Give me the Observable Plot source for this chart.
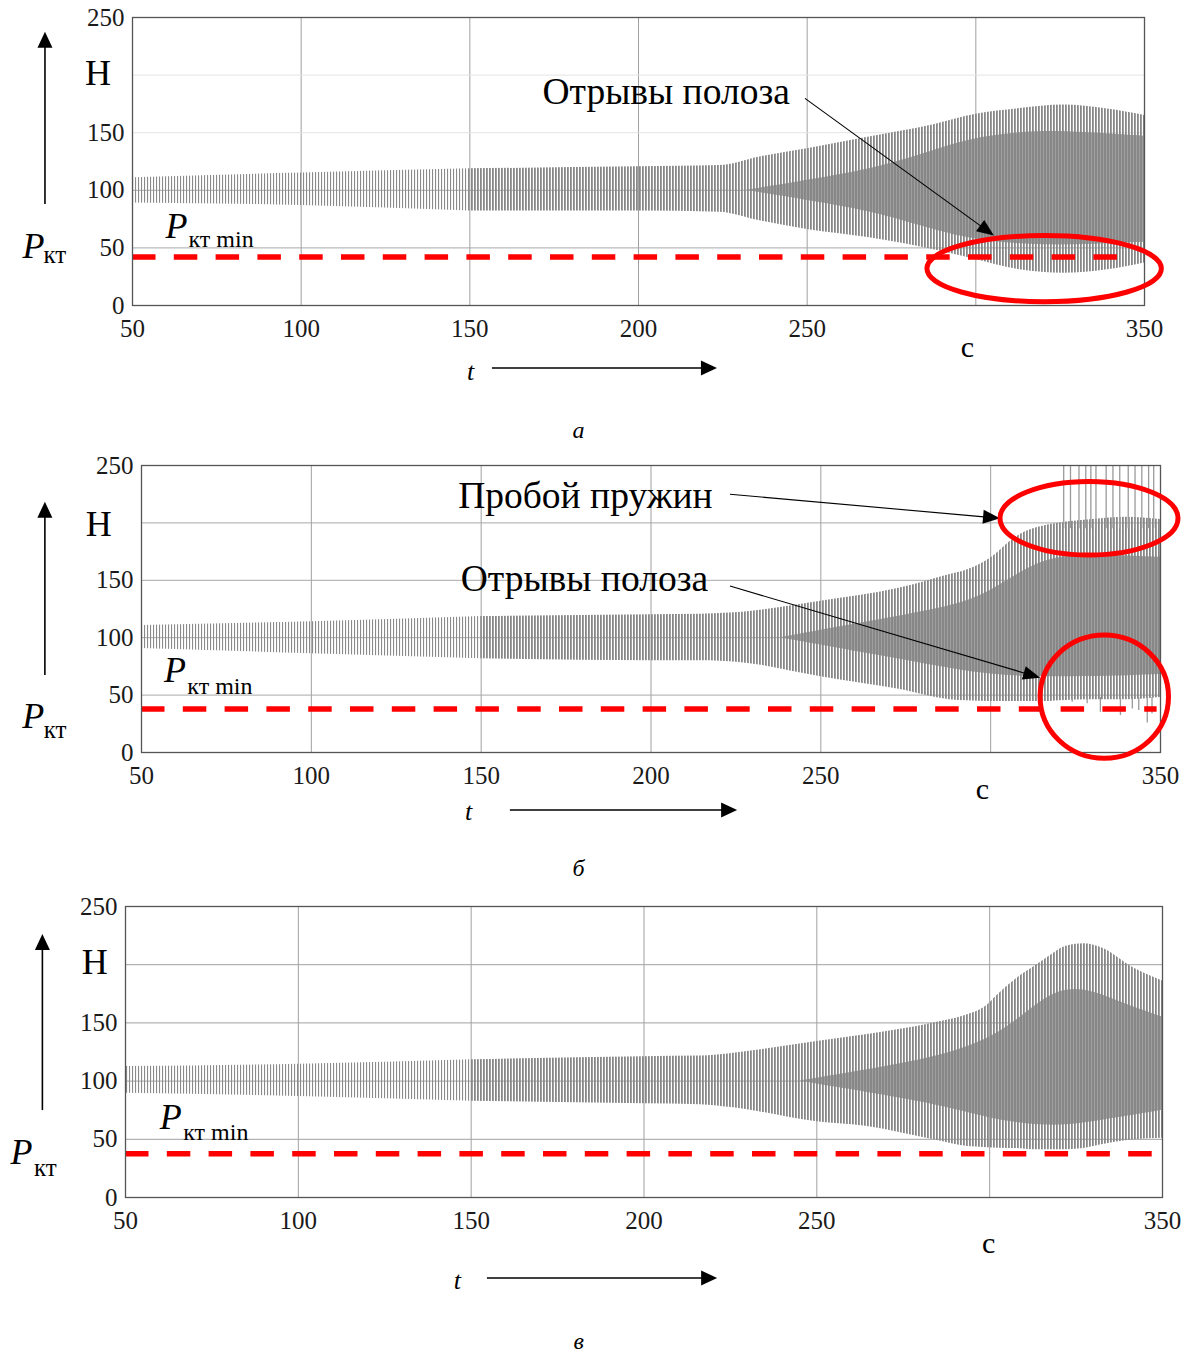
<!DOCTYPE html>
<html><head><meta charset="utf-8">
<script src="https://cdn.jsdelivr.net/npm/d3@7"></script>
<script src="https://cdn.jsdelivr.net/npm/@observablehq/plot@0.6"></script>
<style>
body{margin:0;background:#fff;}
#wrap{position:relative;width:1187px;height:1355px;background:#fff;}
#wrap svg.plot{position:absolute;left:0;}
</style></head><body>
<svg width="0" height="0" style="position:absolute">
<defs>
<pattern id="oscLight" width="3" height="8" patternUnits="userSpaceOnUse"><rect x="0" y="0" width="1.1" height="8" fill="#8a8a8a"/></pattern>
<pattern id="oscDense" width="3" height="8" patternUnits="userSpaceOnUse"><rect x="0" y="0" width="1.8" height="8" fill="#878787"/></pattern>
<pattern id="oscCore" width="3" height="8" patternUnits="userSpaceOnUse"><rect x="0" y="0" width="3" height="8" fill="#878787"/><rect x="2.4" y="0" width="0.6" height="8" fill="#b0b0b0"/></pattern>
</defs></svg>
<div id="wrap"></div>
<script>
// ---------- data ----------
const xTicks = [50, 100, 150, 200, 250, 350];
const yTicks = [0, 50, 100, 150, 250];
const unitLabel = "Н";

// panel а : envelope of the oscillating force
const tA  = [50, 100, 150, 200, 224, 236, 250, 268, 287.5, 300, 313, 326, 339, 350];
const hiA = [111, 115, 118.6, 120.5, 121.5, 129, 136, 146, 157, 166, 171, 174, 170.5, 165];
const loA = [89, 86.8, 82, 82, 81, 73.5, 66, 59, 48.5, 40, 31, 28, 31, 37];
const coreTA  = [232, 255, 270, 285, 295, 305, 320, 335, 350];
const coreHiA = [100, 111, 119, 132, 142, 148, 152, 150, 147];
const coreLoA = [100, 89, 81, 68, 60, 55, 52, 53, 55];
const pminA = 42;

// panel б
const tB  = [50, 100, 150, 200, 214.5, 226, 250, 273, 288, 293, 300, 307.6, 317.5, 320.5, 330, 340, 350];
const hiB = [110.6, 114, 118.5, 120, 120.5, 122, 131.7, 143, 155, 159, 169.5, 188, 198.5, 200, 203, 205, 203];
const loB = [90.6, 86, 81.6, 80, 80, 78.5, 66, 55, 46, 45, 44.5, 44.5, 44.5, 45, 46, 46, 48];
const coreTB  = [238, 270, 290, 300, 310, 320, 335, 350];
const coreHiB = [100, 117, 128, 140, 160, 172, 172, 170];
const coreLoB = [100, 83, 72, 68, 66, 66, 66, 68];
const spikeTopTB = [321.5, 323.5, 326, 328, 329.5, 331, 334, 336, 338, 340.5, 342.5, 344.5, 346.5, 348];
const spikeLowTB = [324, 328.4, 332.3, 338.2, 341.7, 343.6, 346.1, 347.5];
const spikeLowVB = [43.8, 42.4, 35, 32.2, 38, 36.6, 25.6, 33.7];
const pminB = 38;

// panel в
const tC  = [50, 100, 150, 200, 216.3, 226, 250, 264.6, 283.8, 293.6, 298.3, 303, 308, 312.7, 315.7, 322.4, 327.3, 332, 341.8, 350];
const hiC = [112.5, 114.5, 118.3, 121, 121.5, 124, 134, 140, 150, 157, 163, 176, 188.5, 198, 204, 216, 218, 215, 197, 186];
const loC = [89.6, 86.8, 82.7, 80.5, 79.7, 77, 65, 61, 49.6, 43.8, 43, 42.4, 42, 41, 41, 41, 42, 45, 49.6, 51];
const coreTC  = [245, 280, 295, 305, 315, 322, 330, 340, 350];
const coreHiC = [100, 117, 130, 145, 170, 180, 178, 165, 155];
const coreLoC = [100, 83, 72, 65, 62, 62, 65, 70, 75];
const pminC = 37.5;

// ---------- annotations (data coordinates) ----------
const annA = {
  texts: [{text:"Отрывы полоза", t:208.2, v:175.1}],
  arrows: [{t1:249.5, v1:179.4, t2:305.5, v2:60.3}],
  axisArrows: [{t1:156.7, v1:-54.7, t2:223.4, v2:-54.7}, {t1:24.2, v1:87.7, t2:24.2, v2:237.2}],
  ellipses: [{t:320.4, v:31.6, rt:34.75, rv:28.7}],
  unit: {t:39.8, v:201.8},
  P: {t:17.4, v:40.8}, Psub: {t:23.6, v:37.3},
  Pm: {t:59.8, v:59.0}, Pmsub: {t:66.6, v:50.6},
  tl: {t:150.2, v:-65.1}, sec: {t:297.5, v:-45.1}, letter: {text:"а", t:182.2, v:-114.6}
};
const annB = {
  texts: [{text:"Пробой пружин", t:180.7, v:213.4}, {text:"Отрывы полоза", t:180.4, v:141.1}],
  arrows: [{t1:223.4, v1:224.5, t2:302.9, v2:203.6}, {t1:223.4, v1:144.6, t2:314.7, v2:64.7}],
  axisArrows: [{t1:158.6, v1:-50.5, t2:225.5, v2:-50.5}, {t1:21.7, v1:67.1, t2:21.7, v2:218.0}],
  ellipses: [{t:329.1, v:203.6, rt:26.2, rv:32.0}, {t:333.6, v:48.2, rt:18.9, rv:53.7}],
  unit: {t:37.4, v:198.6},
  P: {t:14.9, v:21.5}, Psub: {t:21.2, v:12.5},
  Pm: {t:56.6, v:61.2}, Pmsub: {t:63.5, v:51.1},
  tl: {t:146.3, v:-59.2}, sec: {t:297.6, v:-40.9}, letter: {text:"б", t:178.7, v:-108}
};
const annC = {
  texts: [],
  arrows: [],
  axisArrows: [{t1:154.7, v1:-69.6, t2:221.3, v2:-69.6}, {t1:26.1, v1:74.7, t2:26.1, v2:226.0}],
  ellipses: [],
  unit: {t:41.1, v:201.9},
  P: {t:16.7, v:28.4}, Psub: {t:23.5, v:18.9},
  Pm: {t:59.9, v:59.0}, Pmsub: {t:66.7, v:49.0},
  tl: {t:146.0, v:-78.2}, sec: {t:299.7, v:-47.3}, letter: {text:"в", t:181.1, v:-130.5}
};

// ---------- drawing ----------
const FONT = "'Liberation Serif', 'Times New Roman', serif";

function drawArrow(g, scales, a, lw, L, W) {
  const x1 = scales.x(a.t1), y1 = scales.y(a.v1), x2 = scales.x(a.t2), y2 = scales.y(a.v2);
  const ang = Math.atan2(y2 - y1, x2 - x1), c = Math.cos(ang), s = Math.sin(ang);
  const bx = x2 - L * c, by = y2 - L * s;
  g.append("line").attr("x1", x1).attr("y1", y1).attr("x2", bx + c).attr("y2", by + s)
    .attr("stroke", "#000").attr("stroke-width", lw);
  g.append("path").attr("d", `M${x2},${y2}L${bx + W * s},${by - W * c}L${bx - W * s},${by + W * c}Z`).attr("fill", "#000");
}

function annotMark(ann) {
  return (index, scales) => {
    const g = d3.create("svg:g");
    for (const a of ann.arrows) drawArrow(g, scales, a, 1.1, 17, 7);
    for (const a of ann.axisArrows) drawArrow(g, scales, a, 1.6, 16, 7.5);
    for (const e of ann.ellipses) {
      const cx = scales.x(e.t), cy = scales.y(e.v);
      g.append("ellipse").attr("cx", cx).attr("cy", cy)
        .attr("rx", Math.abs(scales.x(e.t + e.rt) - cx)).attr("ry", Math.abs(scales.y(e.v + e.rv) - cy))
        .attr("fill", "none").attr("stroke", "#ff0000").attr("stroke-width", 5);
    }
    return g.node();
  };
}

function txt(p, text, size, italic, anchor, lineAnchor = "bottom") {
  return Plot.text([p], {x: "t", y: "v", text: () => text, fontSize: size, fontStyle: italic ? "italic" : "normal",
    textAnchor: anchor, lineAnchor, fill: "#000"});
}

function makePanel(cfg) {
  const rows = cfg.t.map((t, i) => ({t, hi: cfg.hi[i], lo: cfg.lo[i]}));
  const core = cfg.coreT.map((t, i) => ({t, hi: cfg.coreHi[i], lo: cfg.coreLo[i]}));
  const ann = cfg.ann;
  const marks = [
    Plot.gridX([100, 150, 200, 250, 300], {stroke: "#a0a0a0", strokeOpacity: 1}),
    ...cfg.grids,
    Plot.areaY(rows.filter(d => d.t <= 150), {x: "t", y1: "lo", y2: "hi", fill: "url(#oscLight)", curve: "monotone-x"}),
    Plot.areaY(rows.filter(d => d.t >= 150), {x: "t", y1: "lo", y2: "hi", fill: "url(#oscDense)", curve: "monotone-x"}),
    Plot.areaY(core, {x: "t", y1: "lo", y2: "hi", fill: "url(#oscCore)", curve: "basis"}),
    ...(cfg.extra || []),
    Plot.ruleY([cfg.pmin], {x1: 50, x2: cfg.pminEnd, stroke: "#ff0000", strokeWidth: 5.5, strokeDasharray: "23.5,18.3"}),
    Plot.frame({stroke: "#555", strokeWidth: 1.3}),
    Plot.axisX({ticks: xTicks, tickSize: 0, tickPadding: 14, label: null, tickFormat: d => String(d)}),
    Plot.axisY({ticks: yTicks, tickSize: 0, tickPadding: 8, label: null, tickFormat: d => String(d)}),
    txt(ann.unit, unitLabel, 36, false, "middle", "middle"),
    txt(ann.P, "P", 36, true, "start"),
    txt(ann.Psub, "кт", 25, false, "start"),
    txt(ann.Pm, "P", 36, true, "start"),
    txt(ann.Pmsub, "кт min", 24, false, "start"),
    txt(ann.tl, "t", 26, true, "middle"),
    txt(ann.sec, "с", 30, false, "middle"),
    txt(ann.letter, ann.letter.text, 24, true, "middle"),
    ...ann.texts.map(d => txt(d, d.text, 37.5, false, "middle")),
    annotMark(ann)
  ];
  const svg = Plot.plot({
    width: 1187, height: cfg.height,
    marginTop: cfg.mt, marginBottom: cfg.mb, marginLeft: cfg.ml, marginRight: cfg.mr,
    x: {domain: [50, 350]}, y: {domain: [0, 250]},
    style: {fontFamily: FONT, fontSize: "25px", color: "#1a1a1a", background: "transparent", overflow: "visible"},
    marks
  });
  svg.classList.add("plot");
  svg.style.top = cfg.top + "px";
  document.getElementById("wrap").appendChild(svg);
}

makePanel({
  t: tA, hi: hiA, lo: loA, coreT: coreTA, coreHi: coreHiA, coreLo: coreLoA,
  pmin: pminA, pminEnd: 343, ann: annA,
  top: 0, height: 450, mt: 17, mb: 145, ml: 132, mr: 43,
  grids: [Plot.gridY([50, 100], {stroke: "#a8a8a8", strokeOpacity: 1}), Plot.gridY([150, 200], {stroke: "#e4e4e4", strokeOpacity: 1})]
});

makePanel({
  t: tB, hi: hiB, lo: loB, coreT: coreTB, coreHi: coreHiB, coreLo: coreLoB,
  pmin: pminB, pminEnd: 349, ann: annB,
  top: 450, height: 440, mt: 15, mb: 138, ml: 141, mr: 27,
  grids: [Plot.gridY([50, 100, 150, 200], {stroke: "#a8a8a8", strokeOpacity: 1})],
  extra: [
    Plot.ruleX(spikeTopTB, {x: d => d, y1: 195, y2: 250, stroke: "#9a9a9a", strokeWidth: 1.3}),
    Plot.ruleX(spikeLowTB.map((t, i) => ({t, v: spikeLowVB[i]})), {x: "t", y1: 48, y2: "v", stroke: "#9a9a9a", strokeWidth: 1.3})
  ]
});

makePanel({
  t: tC, hi: hiC, lo: loC, coreT: coreTC, coreHi: coreHiC, coreLo: coreLoC,
  pmin: pminC, pminEnd: 349, ann: annC,
  top: 890, height: 465, mt: 16, mb: 158, ml: 125, mr: 25,
  grids: [Plot.gridY([50, 100, 150, 200], {stroke: "#a0a0a0", strokeOpacity: 1})]
});
</script>
</body></html>
